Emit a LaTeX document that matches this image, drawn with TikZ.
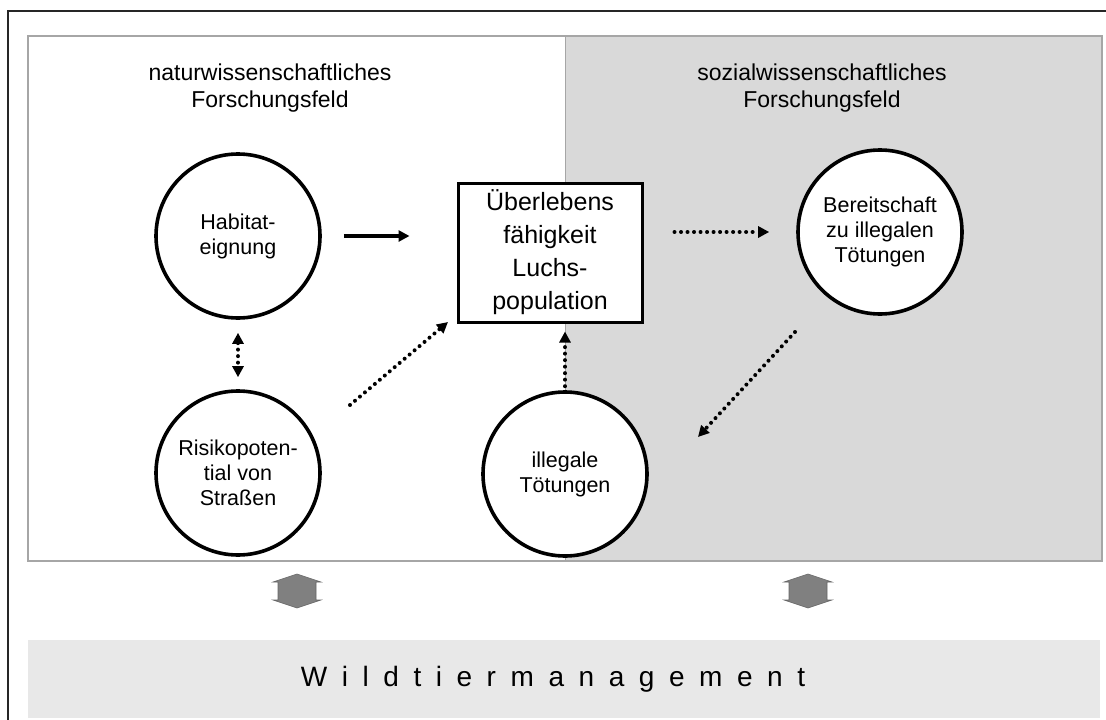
\documentclass[tikz,border=0pt]{standalone}
\usepackage{fontspec}
\setmainfont{Liberation Sans}
\usetikzlibrary{arrows.meta}
\definecolor{rightgray}{HTML}{D9D9D9}
\definecolor{botgray}{HTML}{E8E8E8}
\definecolor{framegray}{HTML}{A6A6A6}
\definecolor{arrgray}{HTML}{808080}
\begin{document}
\begin{tikzpicture}[x=1pt,y=-1pt,
  circ/.style={circle,draw,fill=white,line width=3.6pt,minimum size=164pt,inner sep=0pt,align=center,font=\fontsize{21.5}{25}\selectfont},
  mainbox/.style={draw,line width=3pt,fill=white,minimum width=184pt,minimum height=139pt,align=center,inner sep=0pt,font=\fontsize{25}{33}\selectfont},
  title/.style={align=center,font=\fontsize{23}{27}\selectfont},
  solidarr/.style={line width=3.6pt,-{Triangle[length=11pt,width=11pt]}},
  dotarr/.style={line width=4pt,line cap=round,dash pattern=on 0.01pt off 6.5pt,-{Triangle[length=11pt,width=11pt,line cap=butt]}},
  dotdbl/.style={line width=4pt,line cap=round,dash pattern=on 0.01pt off 6.5pt,{Triangle[length=11pt,width=11pt,line cap=butt]}-{Triangle[length=11pt,width=11pt,line cap=butt]}},
  dblarrow/.pic={\fill[arrgray,draw=black!60,line width=0.6pt] (0,-17) -- (24,-9) -- (19,-9) -- (19,9) -- (24,9) -- (0,17) -- (-24,9) -- (-19,9) -- (-19,-9) -- (-24,-9) -- cycle;}
]
\useasboundingbox (0,0) rectangle (1106,720);
\fill[white] (0,0) rectangle (1106,720);
% outer frame (cropped on right and bottom)
\draw[line width=2pt,black!85] (8,725) -- (8,11) -- (1110,11);
% research fields
\fill[white] (28,36) rectangle (565,561);
\fill[rightgray] (565,36) rectangle (1102,561);
\draw[framegray,line width=1pt] (565,36) -- (565,561);
\draw[framegray,line width=2pt] (28,36) rectangle (1102,561);
% management band
\fill[botgray] (28,640) rectangle (1100,718);
\node[font=\fontsize{28}{32}\selectfont\addfontfeatures{LetterSpace=52}] (wm) at (553,679) {Wildtiermanagement};
% titles
\node[title] (t1) at (270,88) {naturwissenschaftliches\\Forschungsfeld};
\node[title] (t2) at (822,88) {sozialwissenschaftliches\\Forschungsfeld};
% nodes
\node[circ] (hab) at (238,236) {Habitat-\\eignung};
\node[circ] (ris) at (238,473) {Risikopoten-\\tial von\\Straßen};
\node[circ] (ill) at (565,474) {illegale\\Tötungen};
\node[circ] (ber) at (880,232) {Bereitschaft\\zu illegalen\\Tötungen};
\node[mainbox] (box) at (550,252.5) {Überlebens\\fähigkeit\\Luchs-\\population};
% free ends of diagonal connectors
\coordinate (d1s) at (350,405);
\coordinate (d1e) at (448,322);
\coordinate (d2s) at (795,332);
\coordinate (d2e) at (698,437);
% connectors
\draw[solidarr,shorten <=22pt,shorten >=47pt] (hab.east) -- (hab.east -| box.west);
\draw[dotarr,shorten <=31pt,shorten >=27pt] (box.east |- ber.west) -- (ber.west);
\draw[dotdbl,shorten <=13pt,shorten >=12pt] (hab.south) -- (ris.north);
\draw[dotarr] (d1s) -- (d1e);
\draw[dotarr,shorten <=4pt,shorten >=8pt] (ill.north) -- (ill.north |- box.south);
\draw[dotarr] (d2s) -- (d2e);
% management arrows
\pic at (297,591) {dblarrow};
\pic at (808,591) {dblarrow};
\end{tikzpicture}
\end{document}
